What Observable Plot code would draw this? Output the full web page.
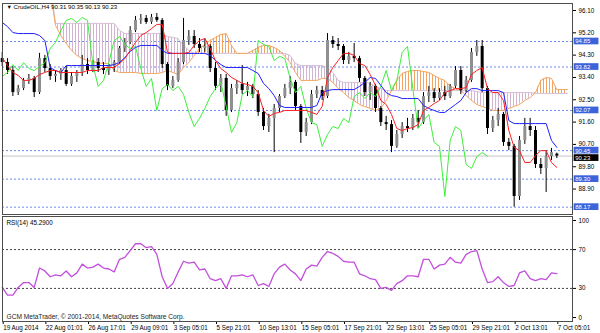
<!DOCTYPE html>
<html><head><meta charset="utf-8">
<script src="https://cdn.jsdelivr.net/npm/d3@7"></script>
<script src="https://cdn.jsdelivr.net/npm/@observablehq/plot@0.6"></script>
<style>
body{margin:0;background:#fff}
#wrap{position:relative;width:600px;height:333px;overflow:hidden;background:#fff}
#wrap svg{position:absolute;left:0}
</style>
</head><body><div id="wrap"></div>
<script>
// ---- data (H4 bars; 1 index = 2 H4 bars) ----
const open = [94.16,94.00,93.68,92.79,92.95,93.28,93.36,92.79,94.16,93.76, 93.44,93.52,93.68,93.12,93.44,93.60,93.92,93.68,94.00,93.76, 93.68,93.84,94.00,94.57,94.81,95.29,95.70,95.78,95.62,95.82, 95.70,93.92,93.04,93.28,94.00,94.89,95.05,94.73,94.57,94.65, 93.76,93.04,93.36,92.07,92.95,93.12,92.87,93.04,92.71,91.99, 91.42,91.75,92.15,92.63,92.95,93.20,92.23,91.18,91.58,92.71, 92.87,92.63,94.89,94.73,94.65,94.08,94.25,94.16,93.36,92.79, 93.04,92.15,91.58,91.50,90.62,91.10,91.42,91.34,91.75,91.58, 92.63,92.79,92.55,92.79,92.63,93.04,93.68,92.87,93.28,94.41, 94.65,92.95,91.34,91.66,91.91,90.78,90.62,88.60,90.86,91.42, 91.26,89.89,89.73,90.21,90.31];
const high = [94.41,94.16,93.84,93.08,93.36,93.52,93.44,94.37,94.29,93.92, 93.68,93.76,93.84,93.60,93.68,94.29,94.16,94.08,94.16,94.00, 93.92,94.08,94.65,94.97,95.45,95.86,95.94,95.90,95.94,95.98, 95.78,94.00,93.44,94.16,95.78,95.29,95.29,94.97,94.97,94.73, 94.00,93.52,93.52,93.12,93.28,93.88,93.20,93.12,92.87,92.15, 91.91,92.31,92.71,93.12,93.44,93.28,92.31,91.75,92.87,93.04, 93.04,95.17,95.05,94.97,94.73,94.41,94.77,94.25,93.44,93.20, 93.12,92.23,91.83,91.66,91.26,91.58,91.75,91.91,92.07,92.79, 93.04,92.95,92.95,93.04,93.12,93.84,93.84,93.44,94.57,94.89, 94.89,93.04,91.83,92.15,91.99,90.94,90.70,91.02,91.75,91.75, 91.42,90.13,90.45,90.54,90.35];
const low = [93.84,93.52,92.63,92.67,92.87,93.12,92.59,92.71,93.60,93.28, 93.20,93.28,93.04,93.04,93.20,93.44,93.52,93.60,93.60,93.52, 93.48,93.60,93.92,94.41,94.73,95.21,95.54,95.54,95.54,95.62, 93.76,92.87,92.95,93.20,93.92,94.69,94.57,94.41,94.41,93.60, 92.87,92.79,91.83,91.99,92.71,92.71,92.63,92.55,91.83,91.26, 91.18,90.37,91.99,92.55,92.71,92.07,90.74,91.02,91.50,92.55, 92.47,92.55,94.57,94.49,93.92,93.92,94.00,93.20,92.63,92.47, 91.99,91.42,91.26,90.37,90.54,90.94,91.18,91.26,91.34,91.50, 92.39,92.39,92.47,92.47,92.55,92.95,92.71,92.79,93.20,94.25, 92.79,91.10,91.18,91.42,90.62,90.45,88.17,88.44,90.70,91.02, 89.73,89.49,88.76,90.05,90.13];
const close = [94.00,93.68,92.79,92.95,93.28,93.36,92.79,94.16,93.76,93.44, 93.52,93.68,93.12,93.44,93.60,93.92,93.68,94.00,93.76,93.68, 93.84,94.00,94.57,94.81,95.29,95.70,95.78,95.62,95.82,95.70, 93.92,93.04,93.28,94.00,94.89,95.05,94.73,94.57,94.65,93.76, 93.04,93.36,92.07,92.95,93.12,92.87,93.04,92.71,91.99,91.42, 91.75,92.15,92.63,92.95,93.20,92.23,91.18,91.58,92.71,92.87, 92.63,94.89,94.73,94.65,94.08,94.25,94.16,93.36,92.79,93.04, 92.15,91.58,91.50,90.62,91.10,91.42,91.34,91.75,91.58,92.63, 92.79,92.55,92.79,92.63,93.04,93.68,92.87,93.28,94.41,94.65, 92.95,91.34,91.66,91.91,90.78,90.62,88.60,90.86,91.42,91.26, 89.89,89.73,90.21,90.37,90.23];
// Ichimoku lines
const tenkan = [94.20,93.88,93.60,93.48,93.28,93.28,93.36,93.52,93.60,93.68, 93.68,93.60,93.60,93.60,93.60,93.60,93.68,93.68,93.68,93.80, 93.80,93.80,93.96,94.16,94.49,94.81,95.09,95.21,95.37,95.54, 95.54,94.41,94.37,94.37,94.37,94.41,94.69,94.89,94.97,94.57, 94.08,93.76,93.60,93.40,93.28,93.16,93.12,93.04,92.79,92.07, 91.83,91.95,91.99,92.07,92.07,92.07,92.07,92.07,91.99,91.91, 92.23,93.40,93.80,94.08,94.37,94.37,94.29,93.96,93.88,93.52, 93.08,92.47,92.31,91.91,91.34,91.26,91.34,91.38,91.50,92.07, 92.19,92.35,92.47,92.79,92.87,92.95,92.95,92.99,93.52,93.68, 93.80,92.95,92.79,92.79,92.47,91.26,90.58,90.45,89.97,89.97, 90.25,90.45,90.45,89.97,89.77];
const kijun = [95.62,95.45,95.21,95.17,95.17,95.17,95.17,95.09,94.89,93.80, 93.68,93.60,93.88,93.88,93.88,93.88,93.88,93.88,93.88,93.88, 93.88,93.92,94.00,94.20,94.45,94.61,94.69,94.69,94.69,94.69, 94.49,94.37,94.37,94.37,94.37,94.37,94.37,94.37,94.37,94.29, 94.08,93.92,93.80,93.80,93.80,93.80,93.80,93.68,93.56,93.16, 92.95,92.67,92.27,92.19,92.19,92.19,92.19,92.19,92.19,92.27, 92.79,92.87,92.91,92.91,92.91,92.91,92.91,93.04,93.20,93.40, 93.36,93.08,92.79,92.67,92.63,92.55,92.55,92.55,92.55,92.27, 92.15,92.07,91.99,91.99,92.15,92.31,92.47,92.79,92.95,92.95, 92.87,92.87,92.87,92.87,92.79,91.66,91.54,91.54,91.54,91.54, 91.54,91.54,91.54,90.86,90.58];
const senkouA = [97.00,97.00,97.00,97.00,97.00,97.00,97.00,97.00,97.00,96.90, 95.50,95.09,94.77,94.49,94.29,94.16,94.08,94.04,94.00,93.96, 93.96,93.68,93.60,93.60,93.60,93.60,93.56,93.56,93.56,93.56, 93.60,93.68,93.60,93.52,93.80,94.00,94.29,94.57,94.73,94.89, 95.01,95.13,95.17,94.69,94.37,94.37,94.37,94.49,94.61,94.69, 94.69,94.61,94.49,94.25,94.00,93.60,93.28,93.28,93.28,93.28, 93.36,93.36,93.20,92.95,92.79,92.59,92.47,92.31,92.23,92.15, 92.07,92.15,92.47,92.87,93.28,93.56,93.64,93.68,93.68,93.64, 93.60,93.48,93.36,93.28,93.04,92.95,92.87,92.67,92.47,92.31, 92.23,92.15,92.07,92.07,92.07,92.15,92.23,92.31,92.47,92.59, 92.79,93.28,93.40,93.36,92.91,92.91,92.91];
const senkouB = [97.20,97.20,97.20,97.20,97.20,97.20,97.20,97.20,97.20,97.20, 95.58,95.58,95.58,95.58,95.58,95.58,95.58,95.58,95.58,95.58, 95.58,95.58,95.29,95.17,95.17,95.17,95.17,95.17,95.17,95.17, 95.17,95.05,95.01,94.97,94.69,94.49,94.37,94.37,94.37,94.37, 94.37,94.37,94.37,94.37,94.37,94.37,94.37,94.37,94.37,94.37, 94.37,94.37,94.37,94.37,94.29,93.96,93.88,93.88,93.88,93.88, 93.88,93.80,93.60,93.28,93.20,93.20,93.20,93.20,93.20,93.16, 93.04,92.95,92.87,92.87,92.87,92.87,92.87,92.87,92.87,92.87, 92.87,92.87,92.87,92.87,92.87,92.87,92.87,92.87,92.87,92.83, 92.79,92.79,92.79,92.79,92.79,92.79,92.79,92.79,92.79,92.79, 92.75,92.75,92.75,92.75,92.75,92.75,92.75];
const chikouShift = 13;
const rsi = [31,23,23,31,36,36,31,51,48,42, 44,43,48,42,46,55,51,52,55,51, 50,47,60,62,69,76,76,72,73,65, 42,30,35,47,58,56,57,49,50,40, 38,40,30,43,43,44,42,44,33,35, 32,45,52,55,49,45,38,50,54,53, 62,68,66,63,58,57,57,45,43,40, 39,30,31,28,35,38,43,43,42,60, 60,50,54,55,62,57,56,65,68,69, 50,36,37,42,36,32,33,46,48,40, 38,40,39,46,45.29];
const priceTicks = [96.10,95.20,94.30,93.40,92.50,91.60,90.70,89.80,88.90];
const levels = [94.85,93.82,92.07,90.45,89.30,88.17];
const rsiTicks = [0,30,70,100];
const rsiLevels = [70,30];
const dateIdx = [0,8,16,24,32,40,48,56,64,72,80,88,96,104];
const dateLabels = ["19 Aug 2014","22 Aug 01:01","26 Aug 17:01","29 Aug 09:01","3 Sep 05:01","5 Sep 21:01","10 Sep 13:01","15 Sep 05:01","17 Sep 21:01","22 Sep 13:01","25 Sep 05:01","29 Sep 21:01","2 Oct 13:01","7 Oct 05:01"];
const symbol = "CrudeOIL,H4";
const copyright = "GCM MetaTrader, © 2001-2014, MetaQuotes Software Corp.";

// ---- tables ----
const n = close.length;
const bars = d3.range(n).map(i => ({i, o: open[i], h: high[i], l: low[i], c: close[i]}));
const cloud = senkouA.map((a, i) => ({i, a, b: senkouB[i], top: Math.max(a, senkouB[i])}));
const chikou = d3.range(n - chikouShift).map(i => ({i, v: close[i + chikouShift]}));
const last = bars[n - 1];
const fmt = d3.format(".2f");

const xDomain = [0.056, 106.94];
const FONT = "Liberation Sans, Arial, sans-serif";
const FS = 6.3;
const common = {width: 600, marginLeft: 2, marginRight: 28, x: {domain: xDomain, axis: null}};
const boxH = 0.135;

const main = Plot.plot({
  ...common, height: 215, marginTop: 3, marginBottom: 1,
  y: {domain: [87.874, 96.382], axis: null},
  style: {fontFamily: FONT, fontSize: FS + "px", background: "transparent", overflow: "visible", color: "#000"},
  marks: [
    Plot.ruleY(levels, {stroke: "#6f8ae6", strokeDasharray: "2,2"}),
    Plot.ruleY([last.c], {stroke: "#c4c4c4"}),
    Plot.areaY(cloud, {x: "i", y1: "b", y2: "top", fill: "url(#hatchSandy)", clip: true}),
    Plot.areaY(cloud, {x: "i", y1: "a", y2: "top", fill: "url(#hatchThistle)", clip: true}),
    Plot.lineY(cloud, {x: "i", y: "b", stroke: "#d8bfd8", strokeWidth: 1, clip: true}),
    Plot.lineY(cloud, {x: "i", y: "a", stroke: "#f4a460", strokeWidth: 1, clip: true}),
    Plot.ruleX(bars, {x: "i", y1: "l", y2: "h", stroke: "#000"}),
    Plot.ruleX(bars.filter(d => d.c >= d.o), {x: "i", y1: "o", y2: d => Math.abs(d.c - d.o) < 0.03 ? d.o + 0.03 : d.c, stroke: "#8f8f8f", strokeWidth: 3}),
    Plot.ruleX(bars.filter(d => d.c < d.o), {x: "i", y1: "o", y2: d => Math.abs(d.c - d.o) < 0.03 ? d.o - 0.03 : d.c, stroke: "#000", strokeWidth: 3}),
    Plot.lineY(chikou, {x: "i", y: "v", stroke: "#3cf03c", strokeWidth: 1, clip: true}),
    Plot.lineY(kijun, {x: (d, i) => i, y: d => d, stroke: "#1f1fff", strokeWidth: 1, clip: true}),
    Plot.lineY(tenkan, {x: (d, i) => i, y: d => d, stroke: "#ff2020", strokeWidth: 1, clip: true}),
    Plot.axisY(priceTicks, {anchor: "right", tickSize: 3, tickPadding: 3, tickFormat: fmt, label: null, fontSize: FS}),
    Plot.rect(levels, {x1: 107.25, x2: 111.9, y1: d => d - boxH, y2: d => d + boxH, fill: "#3b63da"}),
    Plot.rect([last.c], {x1: 107.25, x2: 111.9, y1: d => d - boxH, y2: d => d + boxH, dy: 2, fill: "#000"}),
    Plot.text(levels, {x: 107.45, y: d => d, text: fmt, textAnchor: "start", fill: "#fff", fontSize: 6}),
    Plot.text([last.c], {x: 107.45, y: d => d, dy: 2, text: fmt, textAnchor: "start", fill: "#fff", fontSize: 6}),
    Plot.text(["▼"], {frameAnchor: "top-left", dx: 4, dy: 4, lineAnchor: "middle", textAnchor: "start", fontSize: 5.5, fill: "#000"}),
    Plot.text([`${symbol} ${fmt(last.o)} ${fmt(last.h)} ${fmt(last.l)} ${fmt(last.c)}`], {frameAnchor: "top-left", dx: 11, dy: 4, lineAnchor: "middle", textAnchor: "start", fontSize: 6.1, fill: "#000"}),
    Plot.frame({stroke: "#4d4d4d"})
  ]
});

const rsiPlot = Plot.plot({
  ...common, height: 118, marginTop: 1, marginBottom: 12,
  y: {domain: [-4.1, 104.1], axis: null},
  style: {fontFamily: FONT, fontSize: FS + "px", background: "transparent", overflow: "visible", color: "#000"},
  marks: [
    Plot.ruleY(rsiLevels, {stroke: "#444", strokeDasharray: "2,2"}),
    Plot.lineY(rsi, {x: (d, i) => i, y: d => d, stroke: "#c24fdc", strokeWidth: 1.3}),
    Plot.axisY(rsiTicks, {anchor: "right", tickSize: 3, tickPadding: 3, label: null, fontSize: FS}),
    Plot.axisX(dateIdx, {anchor: "bottom", tickSize: 3, tickPadding: 1, tickFormat: d => dateLabels[dateIdx.indexOf(d)], textAnchor: "start", dx: 1, label: null, fontSize: FS}),
    Plot.text([`RSI(14) ${rsi[rsi.length - 1].toFixed(4)}`], {frameAnchor: "top-left", dx: 4, dy: 6, lineAnchor: "middle", textAnchor: "start", fontSize: FS, fill: "#000"}),
    Plot.text([copyright], {frameAnchor: "bottom-left", dx: 4, dy: -5, lineAnchor: "middle", textAnchor: "start", fontSize: 6.6, fill: "#222"}),
    Plot.frame({stroke: "#4d4d4d"})
  ]
});

function addHatch(svg, id, color) {
  let defs = d3.select(svg).select("defs");
  if (defs.empty()) defs = d3.select(svg).insert("defs", ":first-child");
  const p = defs.append("pattern").attr("id", id).attr("patternUnits", "userSpaceOnUse").attr("width", 3).attr("height", 3);
  p.append("rect").attr("x", 0).attr("y", 0).attr("width", 1).attr("height", 3).attr("fill", color);
}
addHatch(main, "hatchSandy", "#f4a460");
addHatch(main, "hatchThistle", "#d2b4d2");

main.style.top = "0px";
rsiPlot.style.top = "215px";
const wrap = document.getElementById("wrap");
wrap.appendChild(main);
wrap.appendChild(rsiPlot);
</script>
</body></html>
